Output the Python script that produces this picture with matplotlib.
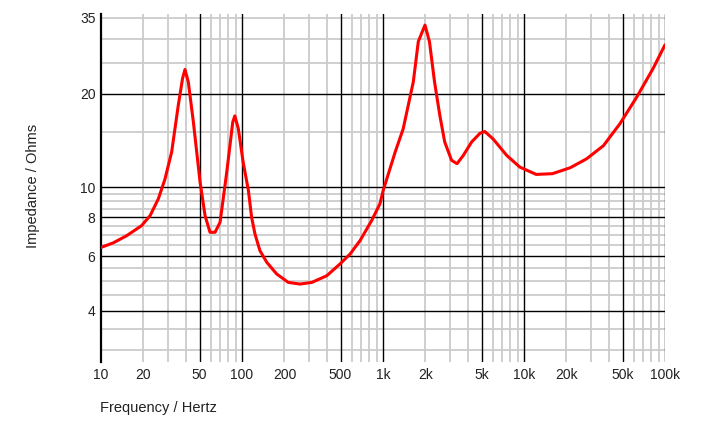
import matplotlib
matplotlib.use("Agg")
import matplotlib.pyplot as plt

# impedance curve
freq = [10, 12.2, 15.2, 19.4, 22.3, 25.5, 28.4, 31.7, 35.3, 37.9,
        39.4, 41.6, 45.2, 50.4, 54.7, 59.3, 64.4, 69.9, 78, 86,
        89, 94.2, 102, 111, 117, 123.6, 134, 150, 176, 213,
        258, 313, 399, 495, 585, 687, 831, 951, 1003, 1220,
        1390, 1640, 1780, 1985, 2135, 2320, 2530, 2740, 3065, 3350,
        3710, 4250, 4870, 5270, 6030, 7540, 9350, 12200, 15900, 21300,
        27900, 36600, 47900, 63100, 82400, 100000]
impedance = [6.40, 6.62, 6.98, 7.52, 8.1, 9.17, 10.6, 12.97, 18.3, 22.4,
             23.9, 21.8, 16.2, 10.4, 8.1, 7.16, 7.16, 7.71, 11.2, 16.2,
             16.95, 15.4, 12.0, 9.76, 8.0, 7.07, 6.25, 5.73, 5.26, 4.94,
             4.88, 4.94, 5.19, 5.66, 6.10, 6.73, 7.81, 8.84, 9.76, 12.97,
             15.4, 21.8, 29.4, 33.2, 29.4, 21.8, 17.0, 13.97, 12.2, 11.9,
             12.65, 13.97, 14.9, 15.1, 14.3, 12.65, 11.6, 10.99, 11.05, 11.55,
             12.35, 13.6, 16.0, 19.5, 24.1, 28.7]

x_ticks = [10, 20, 50, 100, 200, 500, 1000, 2000, 5000, 10000, 20000, 50000, 100000]
x_labels = ["10", "20", "50", "100", "200", "500", "1k", "2k", "5k", "10k", "20k", "50k", "100k"]
x_dark = [50, 100, 500, 1000, 5000, 10000, 50000, 100000]
y_ticks = [4, 6, 8, 10, 20, 35]
y_dark = [4, 6, 8, 10, 20]
y_light = [3, 3.5, 4.5, 5, 5.5, 6.5, 7, 7.5, 8.5, 9, 9.5, 15, 25, 30, 35]

plt.rcParams['font.family'] = ['Liberation Sans', 'DejaVu Sans']

fig = plt.figure(figsize=(7.18, 4.26), dpi=100)
ax = fig.add_axes([101/718, 1-362/426, 564/718, 348/426])
ax.set_xscale('log')
ax.set_yscale('log')
ax.set_xlim(10, 100000)
ax.set_ylim(2.74, 36.05)

# light grid
for d in [10, 100, 1000, 10000]:
    for m in range(2, 10):
        v = d*m
        if v not in x_dark:
            ax.axvline(v, color='#cccccc', lw=1.3, zorder=1)
for v in y_light:
    ax.axhline(v, color='#cccccc', lw=1.3, zorder=1)
# dark grid
for v in x_dark:
    ax.axvline(v, color='black', lw=1.0, zorder=2)
for v in y_dark:
    ax.axhline(v, color='black', lw=1.0, zorder=2)

ax.plot(freq, impedance, color='#ff0000', lw=2.2, zorder=3,
        solid_joinstyle='round', solid_capstyle='round')

for s in ['top', 'right', 'bottom']:
    ax.spines[s].set_visible(False)
ax.spines['left'].set_linewidth(1.6)
ax.spines['left'].set_color('black')

ax.set_xticks(x_ticks)
ax.set_xticklabels(x_labels)
ax.set_xticks([], minor=True)
ax.set_yticks(y_ticks)
ax.set_yticklabels([str(v) for v in y_ticks])
ax.set_yticks([], minor=True)
ax.tick_params(axis='x', length=0, pad=4, labelsize=10, colors='#222222')
ax.tick_params(axis='y', length=0, pad=4, labelsize=10, colors='#222222')

fig.text(33/718, 1-186/426, "Impedance / Ohms", rotation=90, ha='center', va='center', fontsize=10.5, color='#222222')
fig.text(100/718, 1-408/426, "Frequency / Hertz", ha='left', va='center', fontsize=10.5, color='#222222')

fig.savefig("out.png", dpi=100)
